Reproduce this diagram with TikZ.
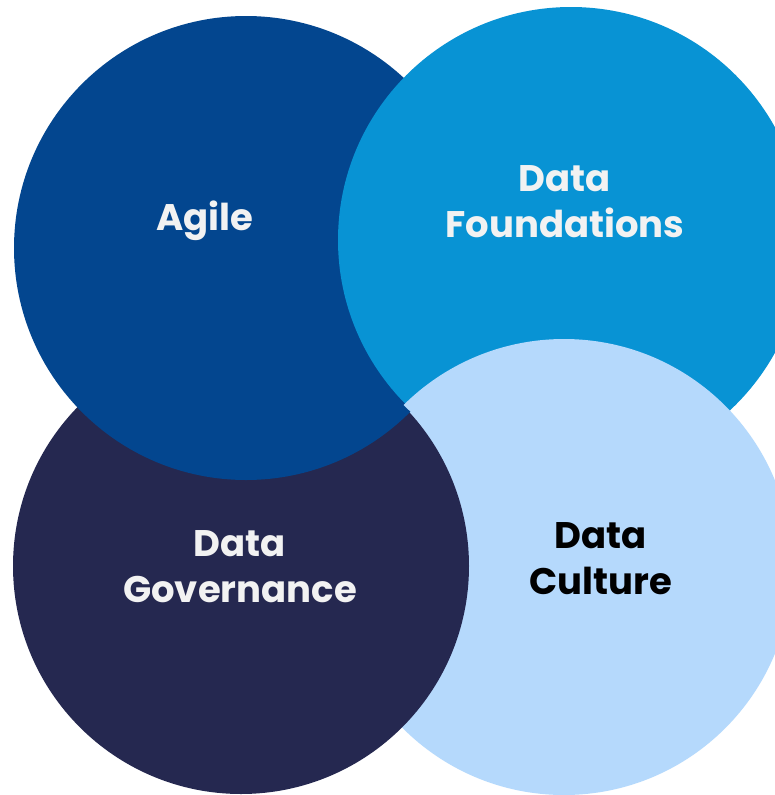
\documentclass[tikz,border=0pt]{standalone}
\usepackage{fontspec}
\setmainfont{Poppins}
\definecolor{agilec}{RGB}{3,70,143}
\definecolor{foundc}{RGB}{8,147,212}
\definecolor{govc}{RGB}{37,40,80}
\definecolor{cultc}{RGB}{181,217,252}
\definecolor{lbl}{RGB}{242,242,242}
\tikzset{
  disc/.style={circle, inner sep=0pt, outer sep=0pt, draw=none},
  lab/.style={align=center, font=\bfseries\fontsize{37}{46}\selectfont, text=lbl},
}
\begin{document}
\begin{tikzpicture}[x=1pt,y=-1pt]
\path[use as bounding box, clip] (0,0) rectangle (775,795);
\fill[white] (0,0) rectangle (775,795);
\node[disc, fill=cultc, minimum size=456pt] (culture) at (564,567) {};
\node[disc, fill=govc, minimum size=456pt] (gov) at (241,566) {};
\node[disc, fill=agilec, minimum size=464pt] (agile) at (246,248) {};
\node[disc, fill=foundc, minimum size=466pt] (found) at (571,240) {};
\begin{scope}
  \clip (571,240) circle[radius=235pt];
  \fill[cultc] (564,567) circle[radius=228pt];
\end{scope}
\node[lab] (tagile) at (205,221) {Agile};
\node[lab] (tfound) at (565,202) {Data\\Foundations};
\node[lab] (tgov) at (240,567) {Data\\Governance};
\node[lab, text=black] (tcult) at (601,559) {Data\\Culture};
\end{tikzpicture}
\end{document}
